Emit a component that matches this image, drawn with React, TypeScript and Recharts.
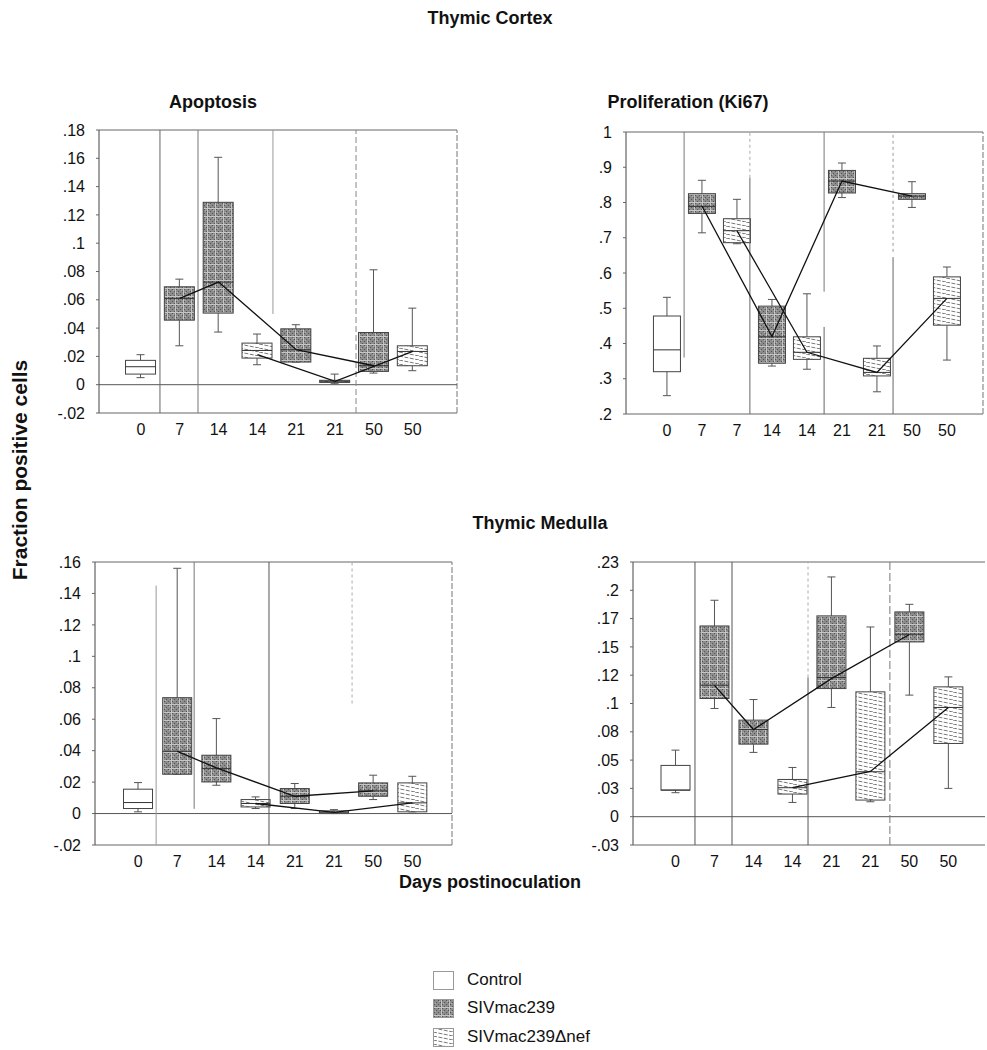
import React from 'react';
import { ComposedChart, Bar, Line, XAxis, YAxis, ReferenceLine } from 'recharts';

const FONT = '"Liberation Sans", Arial, Helvetica, sans-serif';

// box stats per category: [whisker low, q1, median, q3, whisker high]
const cortexApoDays = ['0', '7', '14', '14', '21', '21', '50', '50'];
const cortexApoGroups = ['control', 'siv', 'siv', 'nef', 'siv', 'nef', 'siv', 'nef'];
const cortexApoBoxes = [
  [0.005, 0.0075, 0.0127, 0.0172, 0.0212],
  [0.0275, 0.0456, 0.061, 0.0692, 0.0746],
  [0.0372, 0.0506, 0.0725, 0.1289, 0.1607],
  [0.0141, 0.0188, 0.0242, 0.0294, 0.0358],
  [0.016, 0.016, 0.0247, 0.0395, 0.0424],
  [0.0007, 0.0016, 0.0024, 0.0031, 0.0075],
  [0.0082, 0.0094, 0.0134, 0.0369, 0.0812],
  [0.0099, 0.0134, 0.0235, 0.0275, 0.0541],
];
const cortexApoSiv = [null, 0.061, 0.0725, null, 0.0247, null, 0.0134, null];
const cortexApoNef = [null, null, null, 0.0212, null, 0.0024, null, 0.0235];
const cortexApoTicks = [-0.02, 0, 0.02, 0.04, 0.06, 0.08, 0.1, 0.12, 0.14, 0.16, 0.18];

const cortexKiDays = ['0', '7', '7', '14', '14', '21', '21', '50', '50'];
const cortexKiGroups = ['control', 'siv', 'nef', 'siv', 'nef', 'siv', 'nef', 'siv', 'nef'];
const cortexKiBoxes = [
  [0.252, 0.32, 0.382, 0.478, 0.531],
  [0.714, 0.769, 0.789, 0.825, 0.863],
  [0.683, 0.686, 0.72, 0.754, 0.809],
  [0.336, 0.344, 0.419, 0.506, 0.525],
  [0.327, 0.355, 0.375, 0.419, 0.541],
  [0.814, 0.827, 0.861, 0.891, 0.912],
  [0.263, 0.308, 0.318, 0.358, 0.393],
  [0.786, 0.809, 0.818, 0.825, 0.859],
  [0.353, 0.452, 0.528, 0.589, 0.617],
];
const cortexKiSiv = [null, 0.79, null, 0.42, null, 0.861, null, 0.818, null];
const cortexKiNef = [null, null, 0.72, null, 0.375, null, 0.318, null, 0.528];
const cortexKiTicks = [0.2, 0.3, 0.4, 0.5, 0.6, 0.7, 0.8, 0.9, 1];

const medullaDays = ['0', '7', '14', '14', '21', '21', '50', '50'];
const medullaGroups = ['control', 'siv', 'siv', 'nef', 'siv', 'nef', 'siv', 'nef'];

const medullaApoBoxes = [
  [0.0011, 0.0032, 0.007, 0.0155, 0.0197],
  [0.025, 0.025, 0.0396, 0.0737, 0.156],
  [0.018, 0.0201, 0.0286, 0.0371, 0.0604],
  [0.0032, 0.0042, 0.0064, 0.0089, 0.0106],
  [0.0032, 0.0064, 0.011, 0.0159, 0.0191],
  [0, 0, 0.0008, 0.0017, 0.0025],
  [0.0089, 0.011, 0.0144, 0.0195, 0.0244],
  [0.0011, 0.0011, 0.0068, 0.0195, 0.0237],
];
const medullaApoSiv = [null, 0.0396, 0.029, null, 0.011, null, 0.0144, null];
const medullaApoNef = [null, null, null, 0.0064, null, 0.0008, null, 0.0068];
const medullaApoTicks = [-0.02, 0, 0.02, 0.04, 0.06, 0.08, 0.1, 0.12, 0.14, 0.16];

const medullaKiBoxes = [
  [0.0212, 0.0235, 0.0235, 0.0453, 0.0588],
  [0.0956, 0.1044, 0.1162, 0.1685, 0.1912],
  [0.0568, 0.0641, 0.0771, 0.0853, 0.1035],
  [0.0126, 0.02, 0.0256, 0.0329, 0.0435],
  [0.0965, 0.1132, 0.1229, 0.1774, 0.2118],
  [0.0132, 0.0147, 0.0397, 0.1103, 0.1676],
  [0.1074, 0.1544, 0.1612, 0.1809, 0.1876],
  [0.025, 0.0647, 0.0965, 0.1147, 0.1235],
];
const medullaKiSiv = [null, 0.116, 0.077, null, 0.122, null, 0.161, null];
const medullaKiNef = [null, null, null, 0.0256, null, 0.04, null, 0.0965];
const medullaKiTicks = [-0.025, 0, 0.025, 0.05, 0.075, 0.1, 0.125, 0.15, 0.175, 0.2, 0.225];
const medullaKiLabels = ['-.03', '0', '.03', '.05', '.08', '.1', '.12', '.15', '.17', '.2', '.23'];

const fmt = (v: number) => String(Number(v.toFixed(3))).replace(/^(-?)0\./, '$1.');

const fills: Record<string, string> = {
  control: '#ffffff',
  siv: 'url(#pSiv)',
  nef: 'url(#pNef)',
};

function BoxShape(props: any) {
  const { x, y, width, height, payload } = props;
  if (payload == null || height == null) return null;
  const [lo, q1, med, q3, hi] = payload.stats;
  const top = Math.min(y, y + height);
  const h = Math.abs(height);
  const k = q3 - q1 > 0 ? h / (q3 - q1) : 0;
  const yOf = (v: number) => top + (q3 - v) * k;
  const cx = x + width / 2;
  const cap = 4;
  return (
    <g>
      <line x1={cx} x2={cx} y1={yOf(hi)} y2={top} stroke="#555" strokeWidth={1} />
      <line x1={cx} x2={cx} y1={top + h} y2={yOf(lo)} stroke="#555" strokeWidth={1} />
      <line x1={cx - cap} x2={cx + cap} y1={yOf(hi)} y2={yOf(hi)} stroke="#555" strokeWidth={1} />
      <line x1={cx - cap} x2={cx + cap} y1={yOf(lo)} y2={yOf(lo)} stroke="#555" strokeWidth={1} />
      <rect x={x} y={top} width={width} height={Math.max(h, 1)} fill={fills[payload.group]} stroke="#444" strokeWidth={1} />
      <line x1={x} x2={x + width} y1={yOf(med)} y2={yOf(med)} stroke="#333" strokeWidth={1} />
    </g>
  );
}

interface Guide { x: number; y1: number; y2: number; color: string; dash?: string }

interface PanelProps {
  plot: { left: number; top: number; right: number; bottom: number };
  days: string[];
  groups: string[];
  boxes: number[][];
  siv: (number | null)[];
  nef: (number | null)[];
  yTicks: number[];
  yLabels?: string[];
  xDomain: [number, number];
  barSize: number;
  guides: Guide[];
  zero: boolean;
  rightBorder: boolean;
}

function Panel({ plot, days, groups, boxes, siv, nef, yTicks, yLabels, xDomain, barSize, guides, zero, rightBorder }: PanelProps) {
  const width = plot.right - plot.left + 64;
  const height = plot.bottom - plot.top + 40;
  const yDomain: [number, number] = [yTicks[0], yTicks[yTicks.length - 1]];
  const rows = days.map((d, i) => ({
    i,
    group: groups[i],
    box: [boxes[i][1], boxes[i][3]],
    stats: boxes[i],
    siv: siv[i],
    nef: nef[i],
  }));
  const label = (v: number) => {
    const idx = yTicks.indexOf(v);
    return yLabels && idx >= 0 ? yLabels[idx] : fmt(v);
  };
  return (
    <div style={{ position: 'absolute', left: plot.left - 60, top: plot.top - 10 }}>
      <ComposedChart width={width} height={height} data={rows} margin={{ top: 10, right: 4, bottom: 0, left: 0 }}>
        <XAxis
          type="number"
          dataKey="i"
          domain={xDomain}
          allowDataOverflow
          ticks={days.map((_, i) => i)}
          interval={0}
          tickFormatter={(v: number) => days[v]}
          axisLine={false}
          tickLine={false}
          tickSize={0}
          tickMargin={11}
          height={30}
          tick={{ fontSize: 16, fill: '#111', fontFamily: FONT }}
        />
        <YAxis
          type="number"
          domain={yDomain}
          allowDataOverflow
          ticks={yTicks}
          interval={0}
          tickFormatter={label}
          width={60}
          axisLine={{ stroke: '#444' }}
          tickLine={{ stroke: '#666' }}
          tickSize={3}
          tickMargin={11}
          tick={{ fontSize: 16, fill: '#111', fontFamily: FONT }}
        />
        <ReferenceLine y={yDomain[1]} stroke="#666" />
        <ReferenceLine y={yDomain[0]} stroke="#666" />
        {rightBorder && <ReferenceLine x={xDomain[1]} stroke="#777" strokeDasharray="6 2" />}
        {zero && <ReferenceLine y={0} stroke="#555" />}
        {guides.map((g, k) => (
          <ReferenceLine
            key={k}
            segment={[{ x: g.x, y: g.y1 }, { x: g.x, y: g.y2 }]}
            stroke={g.color}
            strokeDasharray={g.dash}
          />
        ))}
        <Bar dataKey="box" barSize={barSize} shape={BoxShape} isAnimationActive={false} />
        <Line dataKey="siv" connectNulls stroke="#111" strokeWidth={1.3} dot={false} isAnimationActive={false} />
        <Line dataKey="nef" connectNulls stroke="#111" strokeWidth={1.3} dot={false} isAnimationActive={false} />
      </ComposedChart>
    </div>
  );
}

const bold: React.CSSProperties = {
  position: 'absolute',
  fontFamily: FONT,
  fontWeight: 'bold',
  fontSize: 18,
  color: '#111',
  whiteSpace: 'nowrap',
  transform: 'translate(-50%, -50%)',
};

function LegendItem({ top, fill, label }: { top: number; fill: string; label: string }) {
  return (
    <div style={{ position: 'absolute', left: 433, top, height: 20, display: 'flex', alignItems: 'center' }}>
      <svg width={21} height={19} style={{ display: 'block' }}>
        <rect x={0.5} y={0.5} width={20} height={18} fill={fill} stroke="#999" />
      </svg>
      <span style={{ marginLeft: 13, fontFamily: FONT, fontSize: 17, color: '#111' }}>{label}</span>
    </div>
  );
}

export default function App() {
  return (
    <div style={{ position: 'relative', width: 987, height: 1050, background: '#fff', overflow: 'hidden' }}>
      <style>{'body{margin:0}'}</style>
      <svg width={0} height={0} style={{ position: 'absolute' }}>
        <defs>
          <pattern id="pSiv" width="8" height="8" patternUnits="userSpaceOnUse">
            <rect width="8" height="8" fill="#8c8c8c" />
            <rect x="1" y="1" width="1" height="1" fill="#555" />
            <rect x="3" y="3" width="1" height="1" fill="#555" />
            <rect x="5" y="5" width="1" height="1" fill="#555" />
            <rect x="7" y="7" width="1" height="1" fill="#555" />
            <rect x="1" y="5" width="1" height="1" fill="#555" />
            <rect x="5" y="1" width="1" height="1" fill="#555" />
            <rect x="3" y="7" width="1" height="1" fill="#555" />
            <rect x="7" y="3" width="1" height="1" fill="#555" />
            <rect x="2" y="4" width="1" height="1" fill="#b5b5b5" />
            <rect x="6" y="2" width="1" height="1" fill="#b5b5b5" />
            <rect x="0" y="0" width="8" height="1" fill="#c6c6c6" />
            <rect x="0" y="0" width="1" height="8" fill="#c6c6c6" />
          </pattern>
          <pattern id="pNef" width="20" height="4" patternUnits="userSpaceOnUse">
            <rect width="20" height="4" fill="#fff" />
            <path d="M0,0 L20,4" stroke="#555" strokeWidth="0.8" strokeDasharray="4 1.5" />
          </pattern>
        </defs>
      </svg>

      <div style={{ ...bold, left: 490, top: 18 }}>Thymic Cortex</div>
      <div style={{ ...bold, left: 213, top: 102 }}>Apoptosis</div>
      <div style={{ ...bold, left: 688, top: 102 }}>Proliferation (Ki67)</div>
      <div style={{ ...bold, left: 540, top: 523 }}>Thymic Medulla</div>
      <div style={{ ...bold, left: 490, top: 882 }}>Days postinoculation</div>
      <div style={{ ...bold, fontSize: 21, left: 20, top: 470, transform: 'translate(-50%, -50%) rotate(-90deg)' }}>
        Fraction positive cells
      </div>

      <Panel
        plot={{ left: 99, top: 130, right: 457, bottom: 413 }}
        days={cortexApoDays}
        groups={cortexApoGroups}
        boxes={cortexApoBoxes}
        siv={cortexApoSiv}
        nef={cortexApoNef}
        yTicks={cortexApoTicks}
        xDomain={[-1.08, 8.14]}
        barSize={30}
        zero
        rightBorder
        guides={[
          { x: 0.49, y1: -0.02, y2: 0.18, color: '#666' },
          { x: 1.47, y1: -0.02, y2: 0.18, color: '#777' },
          { x: 3.4, y1: 0.05, y2: 0.18, color: '#999' },
          { x: 5.54, y1: -0.02, y2: 0.18, color: '#888', dash: '6 3' },
        ]}
      />
      <Panel
        plot={{ left: 626, top: 132, right: 983, bottom: 414 }}
        days={cortexKiDays}
        groups={cortexKiGroups}
        boxes={cortexKiBoxes}
        siv={cortexKiSiv}
        nef={cortexKiNef}
        yTicks={cortexKiTicks}
        xDomain={[-1.17, 9.03]}
        barSize={27}
        zero={false}
        rightBorder
        guides={[
          { x: 0.49, y1: 0.36, y2: 1, color: '#777' },
          { x: 2.37, y1: 0.2, y2: 0.87, color: '#666' },
          { x: 2.37, y1: 0.87, y2: 1, color: '#aaa', dash: '3 3' },
          { x: 4.49, y1: 0.547, y2: 1, color: '#777' },
          { x: 4.49, y1: 0.2, y2: 0.447, color: '#666' },
          { x: 6.46, y1: 0.66, y2: 1, color: '#999', dash: '3 3' },
          { x: 6.46, y1: 0.2, y2: 0.645, color: '#666' },
        ]}
      />
      <Panel
        plot={{ left: 95, top: 562, right: 452, bottom: 845 }}
        days={medullaDays}
        groups={medullaGroups}
        boxes={medullaApoBoxes}
        siv={medullaApoSiv}
        nef={medullaApoNef}
        yTicks={medullaApoTicks}
        xDomain={[-1.1, 8.01]}
        barSize={29}
        zero
        rightBorder
        guides={[
          { x: 0.46, y1: -0.02, y2: 0.145, color: '#999' },
          { x: 1.43, y1: 0.003, y2: 0.16, color: '#777' },
          { x: 3.34, y1: -0.02, y2: 0.16, color: '#555' },
          { x: 5.46, y1: 0.07, y2: 0.16, color: '#aaa', dash: '3 3' },
        ]}
      />
      <Panel
        plot={{ left: 633, top: 562, right: 985, bottom: 845 }}
        days={medullaDays}
        groups={medullaGroups}
        boxes={medullaKiBoxes}
        siv={medullaKiSiv}
        nef={medullaKiNef}
        yTicks={medullaKiTicks}
        yLabels={medullaKiLabels}
        xDomain={[-1.09, 7.94]}
        barSize={29}
        zero
        rightBorder={false}
        guides={[
          { x: 0.5, y1: -0.025, y2: 0.225, color: '#555' },
          { x: 1.45, y1: -0.025, y2: 0.225, color: '#555' },
          { x: 3.4, y1: -0.025, y2: 0.123, color: '#555' },
          { x: 3.4, y1: 0.123, y2: 0.225, color: '#aaa', dash: '3 3' },
          { x: 5.5, y1: -0.025, y2: 0.225, color: '#777', dash: '8 3' },
        ]}
      />

      <LegendItem top={970} fill="#ffffff" label="Control" />
      <LegendItem top={998} fill="url(#pSiv)" label="SIVmac239" />
      <LegendItem top={1027} fill="url(#pNef)" label="SIVmac239Δnef" />
    </div>
  );
}
